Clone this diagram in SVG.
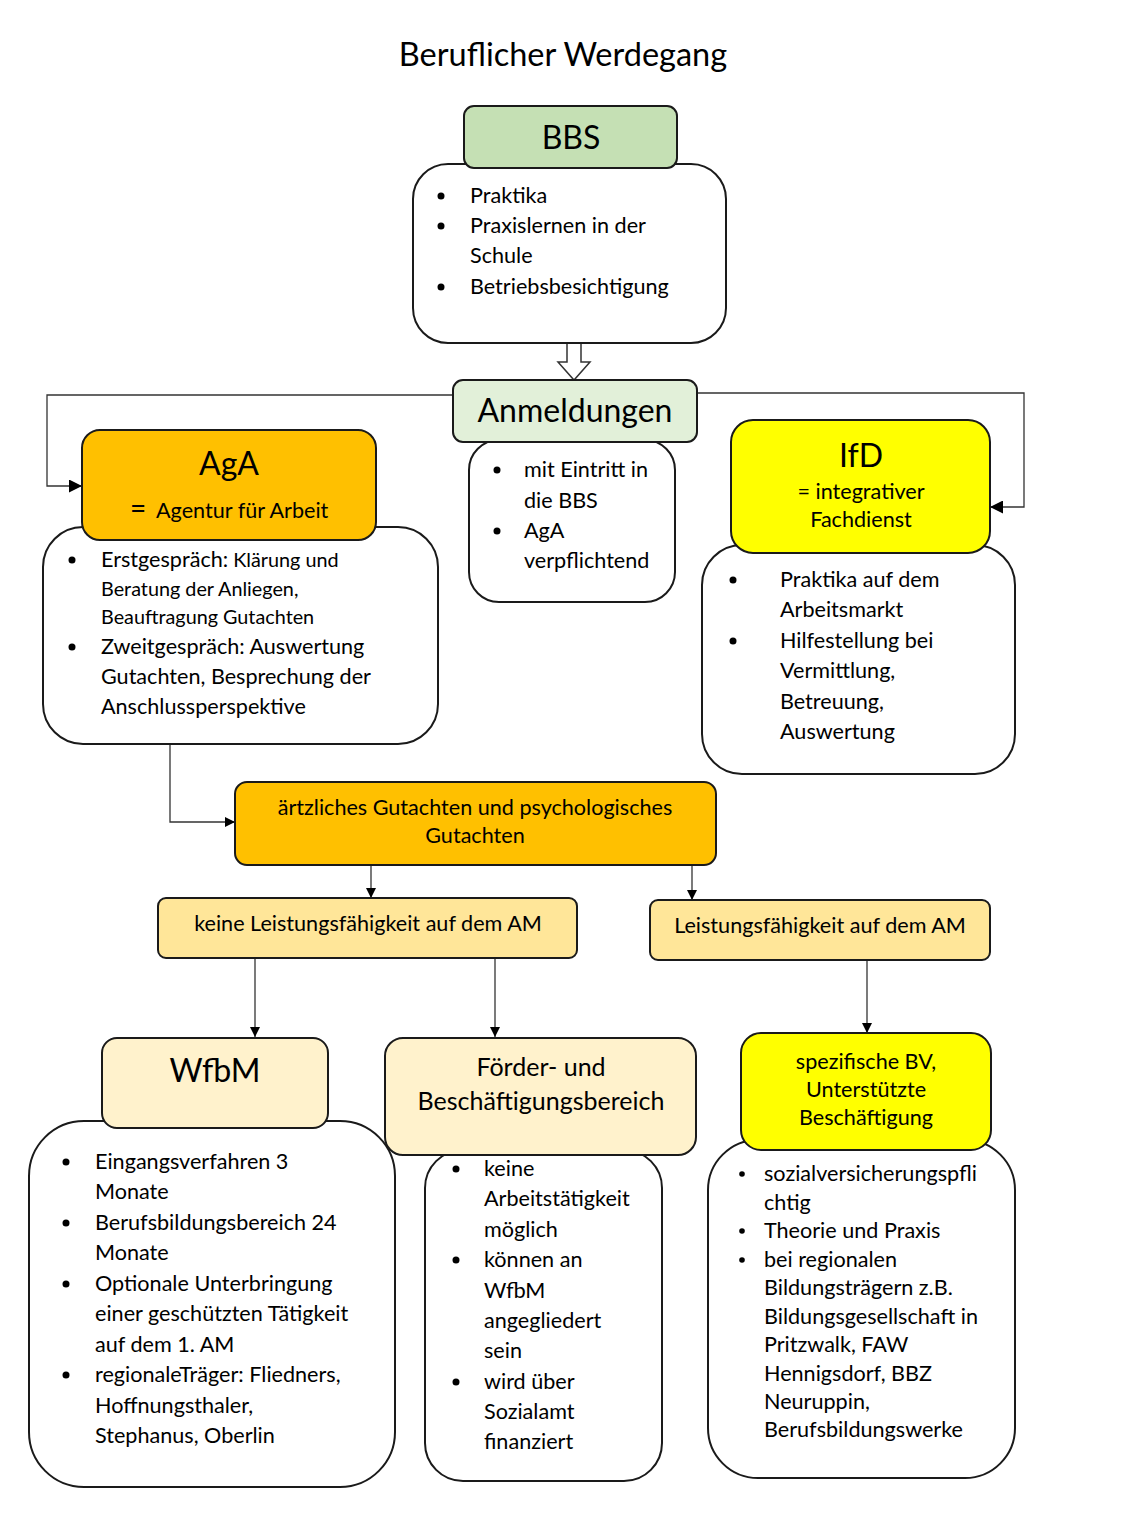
<svg xmlns="http://www.w3.org/2000/svg" width="1128" height="1520" viewBox="0 0 1128 1520">
<style>
text{font-family:Lato,"Open Sans","Liberation Sans",sans-serif;fill:#000}
.box{stroke:#1a1a1a;stroke-width:2}
.body{fill:#fff;stroke:#1a1a1a;stroke-width:2}
.t20{font-size:21.6px}
.t18{font-size:19.8px}
.big{font-size:32px}
.c{text-anchor:middle}
.con{fill:none;stroke:#333;stroke-width:1.3}
</style>
<defs>
<marker id="ah" viewBox="0 0 10 10" refX="10" refY="5" markerWidth="10" markerHeight="10" markerUnits="userSpaceOnUse" orient="auto">
<path d="M0,0 L10,5 L0,10 z" fill="#000"/>
</marker>
<marker id="ah2" viewBox="0 0 10 10" refX="10" refY="5" markerWidth="13" markerHeight="13" markerUnits="userSpaceOnUse" orient="auto">
<path d="M0,0 L10,5 L0,10 z" fill="#000"/>
</marker>
</defs>
<rect width="1128" height="1520" fill="#fff"/>
<text x="563" y="66" class="c" font-size="32.5">Beruflicher Werdegang</text>

<g id="connectors">
<path class="con" d="M453,395 H47 V486 H82" marker-end="url(#ah2)"/>
<path class="con" d="M697,393 H1024 V507 H990" marker-end="url(#ah2)"/>
<path class="con" d="M105,743 H170 V822 H235" marker-end="url(#ah)"/>
<path class="con" d="M371,865 V898" marker-end="url(#ah)"/>
<path class="con" d="M692,865 V900" marker-end="url(#ah)"/>
<path class="con" d="M255,958 V1037" marker-end="url(#ah)"/>
<path class="con" d="M495,958 V1037" marker-end="url(#ah)"/>
<path class="con" d="M867,960 V1033" marker-end="url(#ah)"/>
<path d="M567,337 H581 V362 H590 L574,380 L558,362 H567 Z" fill="#fff" stroke="#333" stroke-width="1.5"/>
</g>

<g id="bbs">
<rect class="body" x="413" y="164" width="313" height="179" rx="35"/>
<rect class="box" x="464" y="106" width="213" height="62" rx="10" fill="#C5E0B4"/>
<text x="571" y="149" class="c big">BBS</text>
<g class="t20">
<circle cx="441" cy="196" r="3.5"/><text x="470" y="203">Praktika</text>
<circle cx="441" cy="226" r="3.5"/><text x="470" y="233">Praxislernen in der</text>
<text x="470" y="263">Schule</text>
<circle cx="441" cy="287" r="3.5"/><text x="470" y="294">Betriebsbesichtigung</text>
</g>
</g>

<g id="anmeldungen">
<rect class="body" x="469" y="440" width="206" height="162" rx="30"/>
<rect class="box" x="453" y="380" width="244" height="62" rx="10" fill="#E2F0D9"/>
<text x="575" y="422" class="c big">Anmeldungen</text>
<g class="t20">
<circle cx="497" cy="470" r="3.5"/><text x="524" y="477">mit Eintritt in</text>
<text x="524" y="508">die BBS</text>
<circle cx="497" cy="531" r="3.5"/><text x="524" y="538">AgA</text>
<text x="524" y="568">verpflichtend</text>
</g>
</g>

<g id="aga">
<rect class="body" x="43" y="527" width="395" height="217" rx="40"/>
<rect class="box" x="82" y="430" width="294" height="110" rx="18" fill="#FFC000"/>
<text x="229" y="475" class="c big">AgA</text>
<text x="130" y="518" font-size="28">=</text>
<text x="156" y="518" class="t20">Agentur für Arbeit</text>
<circle cx="72" cy="560" r="3.5"/>
<text x="101" y="567"><tspan class="t20">Erstgespräch:</tspan><tspan class="t18"> Klärung und</tspan></text>
<text x="101" y="596" class="t18">Beratung der Anliegen,</text>
<text x="101" y="624" class="t18">Beauftragung Gutachten</text>
<circle cx="72" cy="647" r="3.5"/>
<text x="101" y="654" class="t20">Zweitgespräch: Auswertung</text>
<text x="101" y="684" class="t20">Gutachten, Besprechung der</text>
<text x="101" y="714" class="t20">Anschlussperspektive</text>
</g>

<g id="ifd">
<rect class="body" x="702" y="545" width="313" height="229" rx="40"/>
<rect class="box" x="731" y="420" width="259" height="133" rx="22" fill="#FFFF00"/>
<text x="861" y="467" class="c big">IfD</text>
<text x="861" y="499" class="c t20">= integrativer</text>
<text x="861" y="527" class="c t20">Fachdienst</text>
<g class="t20">
<circle cx="733" cy="580" r="3.5"/><text x="780" y="587">Praktika auf dem</text>
<text x="780" y="617">Arbeitsmarkt</text>
<circle cx="733" cy="641" r="3.5"/><text x="780" y="648">Hilfestellung bei</text>
<text x="780" y="678">Vermittlung,</text>
<text x="780" y="709">Betreuung,</text>
<text x="780" y="739">Auswertung</text>
</g>
</g>

<g id="gutachten">
<rect class="box" x="235" y="782" width="481" height="83" rx="12" fill="#FFC000"/>
<text x="475" y="815" class="c t20">ärtzliches Gutachten und psychologisches</text>
<text x="475" y="843" class="c t20">Gutachten</text>
</g>

<g id="keine">
<rect class="box" x="158" y="898" width="419" height="60" rx="8" fill="#FFE699"/>
<text x="368" y="931" class="c t20">keine Leistungsfähigkeit auf dem AM</text>
</g>

<g id="leistung">
<rect class="box" x="650" y="900" width="340" height="60" rx="8" fill="#FFE699"/>
<text x="820" y="933" class="c t20">Leistungsfähigkeit auf dem AM</text>
</g>

<g id="wfbm">
<rect class="body" x="29" y="1121" width="366" height="366" rx="55"/>
<rect class="box" x="102" y="1038" width="226" height="90" rx="15" fill="#FFF2CC"/>
<text x="215" y="1082" class="c big">WfbM</text>
<g class="t20">
<circle cx="66" cy="1162" r="3.5"/><text x="95" y="1169">Eingangsverfahren 3</text>
<text x="95" y="1199">Monate</text>
<circle cx="66" cy="1223" r="3.5"/><text x="95" y="1230">Berufsbildungsbereich 24</text>
<text x="95" y="1260">Monate</text>
<circle cx="66" cy="1284" r="3.5"/><text x="95" y="1291">Optionale Unterbringung</text>
<text x="95" y="1321">einer geschützten Tätigkeit</text>
<text x="95" y="1352">auf dem 1. AM</text>
<circle cx="66" cy="1375" r="3.5"/><text x="95" y="1382">regionaleTräger: Fliedners,</text>
<text x="95" y="1413">Hoffnungsthaler,</text>
<text x="95" y="1443">Stephanus, Oberlin</text>
</g>
</g>

<g id="foerder">
<rect class="body" x="425" y="1150" width="237" height="331" rx="38"/>
<rect class="box" x="385" y="1038" width="311" height="117" rx="18" fill="#FFF2CC"/>
<text x="541" y="1076" class="c" font-size="25">Förder- und</text>
<text x="541" y="1110" class="c" font-size="25">Beschäftigungsbereich</text>
<g class="t20">
<circle cx="456" cy="1169" r="3.5"/><text x="484" y="1176">keine</text>
<text x="484" y="1206">Arbeitstätigkeit</text>
<text x="484" y="1237">möglich</text>
<circle cx="456" cy="1260" r="3.5"/><text x="484" y="1267">können an</text>
<text x="484" y="1298">WfbM</text>
<text x="484" y="1328">angegliedert</text>
<text x="484" y="1358">sein</text>
<circle cx="456" cy="1382" r="3.5"/><text x="484" y="1389">wird über</text>
<text x="484" y="1419">Sozialamt</text>
<text x="484" y="1449">finanziert</text>
</g>
</g>

<g id="spezifisch">
<rect class="body" x="708" y="1140" width="307" height="338" rx="50"/>
<rect class="box" x="741" y="1033" width="250" height="117" rx="20" fill="#FFFF00"/>
<text x="866" y="1069" class="c t20">spezifische BV,</text>
<text x="866" y="1097" class="c t20">Unterstützte</text>
<text x="866" y="1125" class="c t20">Beschäftigung</text>
<g class="t20">
<circle cx="742" cy="1174" r="2.8"/><text x="764" y="1181">sozialversicherungspfli</text>
<text x="764" y="1210">chtig</text>
<circle cx="742" cy="1231" r="2.8"/><text x="764" y="1238">Theorie und Praxis</text>
<circle cx="742" cy="1260" r="2.8"/><text x="764" y="1267">bei regionalen</text>
<text x="764" y="1295">Bildungsträgern z.B.</text>
<text x="764" y="1324">Bildungsgesellschaft in</text>
<text x="764" y="1352">Pritzwalk, FAW</text>
<text x="764" y="1381">Hennigsdorf, BBZ</text>
<text x="764" y="1409">Neuruppin,</text>
<text x="764" y="1437">Berufsbildungswerke</text>
</g>
</g>
</svg>
